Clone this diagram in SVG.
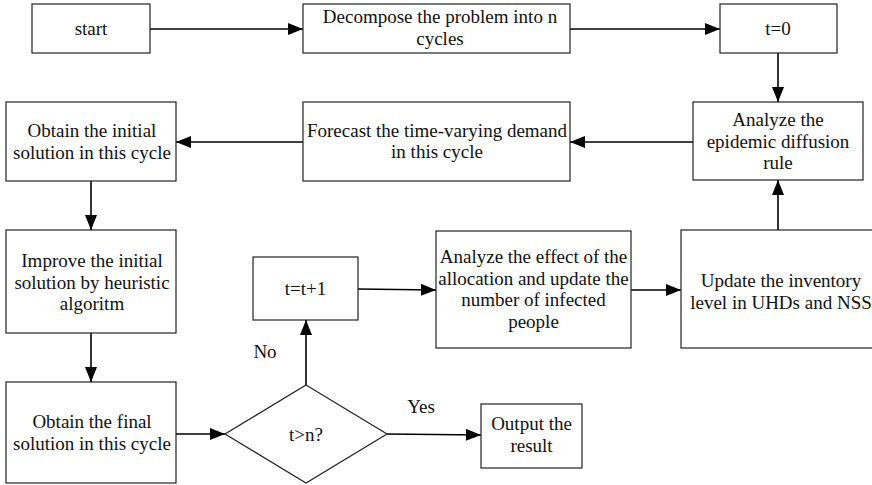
<svg xmlns="http://www.w3.org/2000/svg" width="872" height="485" viewBox="0 0 872 485">
<style>
.box{fill:#fff;stroke:#222;stroke-width:1.2}
.t{font-size:19px;fill:#111;text-anchor:middle}
.c{fill:none;stroke:#000;stroke-width:1.6}
</style>
<defs>
<marker id="ah" markerUnits="userSpaceOnUse" markerWidth="15" markerHeight="12" refX="15" refY="6" orient="auto">
<path d="M0,0 L15,6 L0,12 z" fill="#000"/>
</marker>
</defs>
<rect width="872" height="485" fill="#fff"/>
<g font-family="'Liberation Serif', serif">
<g id="connectors">
<line class="c" x1="150" y1="29" x2="303" y2="29" marker-end="url(#ah)"/>
<line class="c" x1="570" y1="29" x2="720" y2="29" marker-end="url(#ah)"/>
<line class="c" x1="778" y1="53" x2="778" y2="102" marker-end="url(#ah)"/>
<line class="c" x1="693" y1="142" x2="570" y2="142" marker-end="url(#ah)"/>
<line class="c" x1="303" y1="142" x2="176" y2="142" marker-end="url(#ah)"/>
<line class="c" x1="91" y1="181" x2="91" y2="230" marker-end="url(#ah)"/>
<line class="c" x1="91" y1="333" x2="91" y2="382" marker-end="url(#ah)"/>
<line class="c" x1="176" y1="434" x2="225" y2="434" marker-end="url(#ah)"/>
<line class="c" x1="306" y1="385" x2="306" y2="320" marker-end="url(#ah)"/>
<line class="c" x1="358" y1="289" x2="436" y2="290" marker-end="url(#ah)"/>
<line class="c" x1="631" y1="290" x2="681" y2="290" marker-end="url(#ah)"/>
<line class="c" x1="778" y1="230" x2="778" y2="180" marker-end="url(#ah)"/>
<line class="c" x1="387" y1="434" x2="481" y2="435" marker-end="url(#ah)"/>
<text class="t" x="265" y="358">No</text>
<text class="t" x="421" y="413">Yes</text>
</g>
<g id="start">
<rect class="box" x="32" y="4" width="118" height="49"/>
<text class="t" x="91" y="35">start</text>
</g>
<g id="decompose">
<rect class="box" x="303" y="4" width="267" height="49"/>
<text class="t" x="440" y="23">Decompose the problem into n</text>
<text class="t" x="440" y="45">cycles</text>
</g>
<g id="t0">
<rect class="box" x="720" y="4" width="117" height="49"/>
<text class="t" x="778" y="35">t=0</text>
</g>
<g id="analyze-epidemic">
<rect class="box" x="693" y="102" width="170" height="78"/>
<text class="t" x="778" y="126">Analyze the</text>
<text class="t" x="778" y="147.5">epidemic diffusion</text>
<text class="t" x="778" y="169">rule</text>
</g>
<g id="forecast">
<rect class="box" x="303" y="102" width="267" height="79"/>
<text class="t" x="437" y="137">Forecast the time-varying demand</text>
<text class="t" x="437" y="158">in this cycle</text>
</g>
<g id="obtain-initial">
<rect class="box" x="6" y="102" width="170" height="79"/>
<text class="t" x="92" y="137">Obtain the initial</text>
<text class="t" x="92" y="158.5">solution in this cycle</text>
</g>
<g id="improve">
<rect class="box" x="6" y="230" width="170" height="103"/>
<text class="t" x="92" y="267">Improve the initial</text>
<text class="t" x="92" y="288.5">solution by heuristic</text>
<text class="t" x="92" y="310">algoritm</text>
</g>
<g id="obtain-final">
<rect class="box" x="6" y="382" width="170" height="101"/>
<text class="t" x="92" y="428">Obtain the final</text>
<text class="t" x="92" y="449.5">solution in this cycle</text>
</g>
<g id="decision">
<polygon class="box" points="306,385 387,434 306,483 225,434"/>
<text class="t" x="306" y="441">t&gt;n?</text>
</g>
<g id="tinc">
<rect class="box" x="253" y="257" width="105" height="63"/>
<text class="t" x="305.5" y="295">t=t+1</text>
</g>
<g id="analyze-effect">
<rect class="box" x="436" y="231" width="195" height="117"/>
<text class="t" x="533.5" y="263">Analyze the effect of the</text>
<text class="t" x="533.5" y="284.5">allocation and update the</text>
<text class="t" x="533.5" y="306">number of infected</text>
<text class="t" x="533.5" y="327.5">people</text>
</g>
<g id="update">
<rect class="box" x="681" y="230" width="200" height="118"/>
<text class="t" x="781" y="287">Update the inventory</text>
<text class="t" x="781" y="308.5">level in UHDs and NSS</text>
</g>
<g id="output">
<rect class="box" x="481" y="404" width="101" height="64"/>
<text class="t" x="531.5" y="430">Output the</text>
<text class="t" x="531.5" y="452">result</text>
</g>
</g>
</svg>
